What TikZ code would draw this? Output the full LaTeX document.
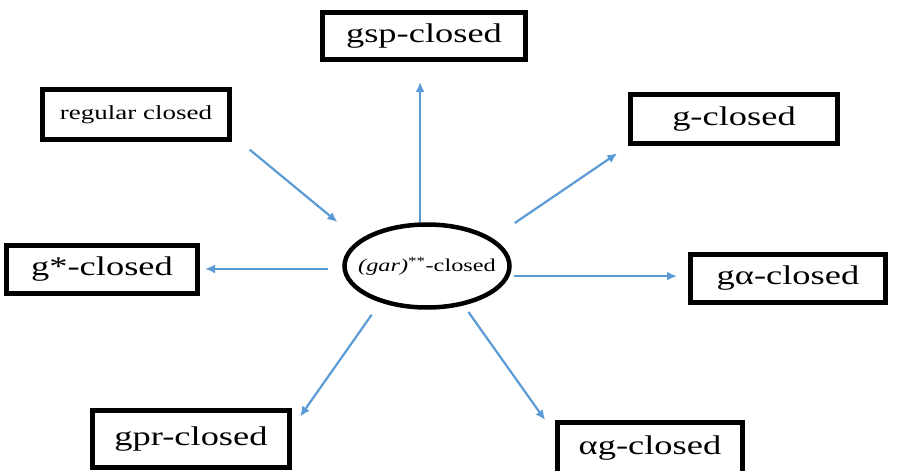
\documentclass[tikz,border=0pt]{standalone}
\usepackage{fontspec}
\setmainfont{Liberation Serif}[FakeStretch=1.35]
\usetikzlibrary{shapes.geometric,arrows.meta}
\definecolor{linkblue}{RGB}{91,155,213}
\tikzset{
  box/.style={draw,line width=5pt,inner sep=0pt,font=\fontsize{27}{30}\selectfont},
  link/.style={linkblue,line width=2.2pt,-{Latex[length=10pt,width=9pt]}}
}
\begin{document}
\begin{tikzpicture}[x=1pt,y=-1pt]
\useasboundingbox (0,0) rectangle (898,471);
\node[draw,ellipse,line width=4.5pt,inner sep=0pt,minimum width=165pt,minimum height=83pt,font=\fontsize{18}{20}\selectfont] (c) at (427,266){\makebox[0pt]{\textit{(gar)}\textsuperscript{**}-closed}};
\node[box,minimum width=203pt,minimum height=47pt] (gsp) at (424,36){gsp-closed};
\node[box,minimum width=187pt,minimum height=50pt,font=\fontsize{20}{24}\selectfont] (reg) at (136,114.5){regular closed};
\node[box,minimum width=207pt,minimum height=49pt] (gcl) at (734,119){g-closed};
\node[box,minimum width=191pt,minimum height=48pt] (gstar) at (102,269.5){g*-closed};
\node[box,minimum width=195pt,minimum height=48pt] (galpha) at (788,278.5){gα-closed};
\node[box,minimum width=197pt,minimum height=57pt] (gpr) at (191,439){gpr-closed};
\node[box,minimum width=185pt,minimum height=51pt] (alphag) at (650,448){αg-closed};
\draw[link,shorten >=20pt] (c.99) -- (c.99 |- gsp.south);
\draw[link,shorten <=23pt,shorten >=28pt] ([yshift=-20.5pt]reg.east) -- (c.159);
\draw[link,shorten <=27pt,shorten >=13pt] (c.23) -- (gcl.south west);
\draw[link,shorten <=5pt,shorten >=11pt] (c.-7) -- (c.-7 -| galpha.west);
\draw[link,shorten <=8pt,shorten >=17pt] (c.-47) -- ([yshift=14pt]alphag.west);
\draw[link,shorten <=15pt,shorten >=14pt] (c.218) -- ([yshift=11pt]gpr.east);
\draw[link,shorten <=14pt,shorten >=5pt] (c.182) -- (c.182 -| gstar.east);
\end{tikzpicture}
\end{document}
